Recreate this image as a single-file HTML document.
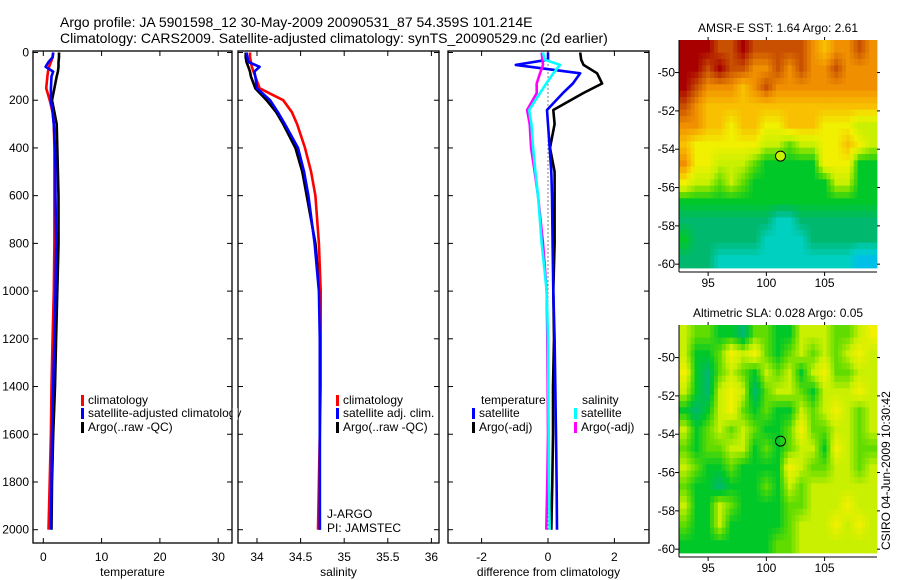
<!DOCTYPE html>
<html><head><meta charset="utf-8"><style>
body{margin:0;background:#fff;}
svg{display:block;font-family:"Liberation Sans",sans-serif;}
</style></head><body>
<svg id="fig" width="900" height="580" viewBox="0 0 900 580" xmlns="http://www.w3.org/2000/svg">
<rect width="900" height="580" fill="#fff"/>
<text x="60" y="27" font-size="14">Argo profile: JA 5901598_12 30-May-2009 20090531_87 54.359S 101.214E</text>
<text x="60" y="43" font-size="14">Climatology: CARS2009. Satellite-adjusted climatology: synTS_20090529.nc (2d earlier)</text>
<defs>
<clipPath id="c1"><rect x="33" y="51" width="199" height="492"/></clipPath>
<clipPath id="c2"><rect x="238" y="51" width="201" height="492"/></clipPath>
<clipPath id="c3"><rect x="448" y="51" width="201" height="492"/></clipPath>
</defs>
<g id="g"></g>
<text transform="translate(890,550) rotate(-90)" font-size="12">CSIRO 04-Jun-2009 10:30:42</text>
</svg>
<script>
// depth levels (m)
const depths = [0,20,40,60,80,100,150,200,250,300,400,500,600,800,1000,1200,1400,1600,1800,2000];
const tempClim = [1.7,1.6,1.3,1.0,0.8,0.7,0.5,1.1,1.6,1.8,1.9,1.9,1.9,1.9,1.8,1.6,1.4,1.3,1.1,0.9];
const tempSat = [1.7,1.6,0.9,0.4,1.7,1.4,1.3,1.3,1.6,1.8,2.0,2.1,2.1,2.2,2.1,1.9,1.7,1.5,1.4,1.3];
const tempArgo = [2.7,2.7,2.6,2.6,2.5,2.3,1.9,1.5,1.9,2.3,2.4,2.5,2.6,2.6,2.4,2.2,2.0,1.7,1.5,1.4];
const salClim = [33.92,33.92,33.93,33.94,33.96,33.98,34.03,34.3,34.4,34.46,34.55,34.62,34.67,34.71,34.73,34.73,34.73,34.72,34.71,34.70];
const salSat = [33.88,33.89,33.9,34.03,33.97,33.98,34.0,34.15,34.24,34.32,34.47,34.54,34.59,34.66,34.71,34.72,34.72,34.72,34.72,34.72];
const salArgo = [33.87,33.87,33.88,33.9,33.92,33.93,33.98,34.11,34.22,34.3,34.44,34.52,34.57,34.67,34.72,34.72,34.72,34.72,34.72,34.72];
const diffDepths = [0,30,52,87,130,170,241,300,400,500,600,800,1000,1200,1400,1600,1800,2000];
const dTSat = [0,0,-0.97,0.97,0.75,0.45,-0.03,0.0,0.05,0.1,0.12,0.14,0.16,0.2,0.22,0.24,0.26,0.27];
const dTArgo = [0.97,1.0,1.07,1.48,1.63,1.06,0.16,0.2,0.06,0.2,0.2,0.2,0.16,0.18,0.15,0.15,0.13,0.1];
const dSSat = [-0.15,-0.1,0.36,0.16,-0.05,-0.24,-0.57,-0.5,-0.45,-0.38,-0.3,-0.19,-0.04,0,0.01,0.02,0.03,0.05];
const dSArgo = [-0.19,-0.17,-0.15,-0.24,-0.34,-0.34,-0.63,-0.55,-0.51,-0.4,-0.3,-0.15,-0.04,-0.02,-0.01,0,-0.02,-0.05];
const depthTicks = [0,200,400,600,800,1000,1200,1400,1600,1800,2000];
const tempTicks = [0,10,20,30];
const salTicks = [34,34.5,35,35.5,36];
const diffTicks = [-2,0,2];
const lonTicks = [95,100,105];
const latTicks = [-50,-52,-54,-56,-58,-60];
// map grids: digits 0..9, a = 10 (colour level)
const sstGrid = [
"aaa99a99999878898",
"aa9a9988989889888",
"a9888789888888888",
"98777777777777777",
"88776776677766655",
"76666665545566765",
"86655543333366633",
"65545433333335533",
"33333333333333333",
"22222222112222222",
"32222221111222222",
"22211111111111100"];
const slaGrid = [
"54433244335554456",
"53346564345454565",
"63245435453564455",
"53256524554355565",
"32356434335456545",
"53454543346445545",
"43445534345536544",
"54334333365445545",
"43323334354555555",
"53354333344555655",
"43353333345556565",
"33333333445555555"];
const floatLon = 101.214, floatLat = -54.359;

const NS='http://www.w3.org/2000/svg';
const G=document.getElementById('g');
function mk(tag,attrs,parent){const e=document.createElementNS(NS,tag);for(const k in attrs)e.setAttribute(k,attrs[k]);(parent||G).appendChild(e);return e;}
const yD = d => 52.5 + d*0.2386;
const xT = v => 43.3 + v*5.83;
const xS = v => 257 + (v-34)*87.2;
const xDf = v => 548 + v*33.2;

function panel(name,x0,x1,xf,ticks,title,showDepth){
  const r=mk('rect',{x:x0,y:51,width:x1-x0,height:492,fill:'none',stroke:'#000','stroke-width':1.3});
  
  
  ticks.forEach(t=>{
    const x=xf(t);
    mk('line',{x1:x,x2:x,y1:543,y2:538,stroke:'#000'});
    mk('line',{x1:x,x2:x,y1:51,y2:56,stroke:'#000'});
    const tx=mk('text',{x:x,y:561,'font-size':12,'text-anchor':'middle'});
    tx.textContent=String(t);
    
    
  });
  depthTicks.forEach(d=>{
    const y=yD(d);
    mk('line',{x1:x0,x2:x0+5,y1:y,y2:y,stroke:'#000'});
    mk('line',{x1:x1,x2:x1-5,y1:y,y2:y,stroke:'#000'});
    if(showDepth){
      const tx=mk('text',{x:x0-4,y:y+4,'font-size':12,'text-anchor':'end'});
      tx.textContent=String(d);
      
      
    }
  });
  const tt=mk('text',{x:(x0+x1)/2,y:576,'font-size':12,'text-anchor':'middle'});
  tt.textContent=title;
  
  
}
function line(name,xs,ds,xf,color,clip){
  const pts=xs.map((v,i)=>xf(v).toFixed(1)+','+yD(ds[i]).toFixed(1)).join(' ');
  const p=mk('polyline',{points:pts,fill:'none',stroke:color,'stroke-width':2.6,'clip-path':'url(#'+clip+')','stroke-linejoin':'round'});
  
  
}
function legend(name,x,y,color,label){
  if(color){mk('rect',{x:x,y:y-9,width:3,height:11,fill:color});}
  const t=mk('text',{x:x+7,y:y,'font-size':12});
  t.textContent=label;
  
  
}

panel('temperature-panel',33,232,xT,tempTicks,'temperature',true);
panel('salinity-panel',238,439,xS,salTicks,'salinity',false);
panel('difference-panel',448,649,xDf,diffTicks,'difference from climatology',false);

line('temp-argo-line',tempArgo,depths,xT,'#000','c1');
line('temp-clim-line',tempClim,depths,xT,'#f00','c1');
line('temp-sat-line',tempSat,depths,xT,'#00f','c1');
line('sal-argo-line',salArgo,depths,xS,'#000','c2');
line('sal-clim-line',salClim,depths,xS,'#f00','c2');
line('sal-sat-line',salSat,depths,xS,'#00f','c2');
mk('line',{x1:xDf(0),x2:xDf(0),y1:yD(0),y2:yD(2000),stroke:'#000','stroke-dasharray':'1,3'});
line('dtemp-argo-line',dTArgo,diffDepths,xDf,'#000','c3');
line('dtemp-sat-line',dTSat,diffDepths,xDf,'#00f','c3');
line('dsal-argo-line',dSArgo,diffDepths,xDf,'#f0f','c3');
line('dsal-sat-line',dSSat,diffDepths,xDf,'#0ff','c3');

legend('legend-temp-clim',81,404,'#f00','climatology');
legend('legend-temp-sat',81,417,'#00f','satellite-adjusted climatology');
legend('legend-temp-argo',81,431,'#000','Argo(..raw -QC)');
mk('rect',{x:232.7,y:408,width:5,height:12,fill:'#fff'});
legend('legend-sal-clim',336,404,'#f00','climatology');
legend('legend-sal-sat',336,417,'#00f','satellite adj. clim.');
legend('legend-sal-argo',336,431,'#000','Argo(..raw -QC)');
legend('label-j-argo',320,518,null,'J-ARGO');
legend('label-pi-jamstec',320,532,null,'PI: JAMSTEC');
legend('legend-diff-temp-title',474,404,null,'temperature');
legend('legend-diff-temp-sat',472,417,'#00f','satellite');
legend('legend-diff-temp-argo',472,431,'#000','Argo(-adj)');
legend('legend-diff-sal-title',575,404,null,'salinity');
legend('legend-diff-sal-sat',574,417,'#0ff','satellite');
legend('legend-diff-sal-argo',574,431,'#f0f','Argo(-adj)');

// continuous colormap by level 0..10
const pal=[[0,192,232],[0,208,192],[0,184,110],[0,200,40],[96,220,0],[200,240,0],[240,240,0],[248,192,0],[240,144,0],[200,80,0],[168,0,0]];
function col(v){v=Math.max(0,Math.min(10,v));const i=Math.min(9,Math.floor(v)),f=v-i;
  const c=pal[i].map((a,k)=>Math.round(a+(pal[i+1][k]-a)*f));return 'rgb('+c.join(',')+')';}
function lvl(ch){return ch==='a'?10:+ch;}
function map(name,grid,top,bottom,title){
  const x0=679,x1=877,lon0=92.5,lon1=109.5,lat0=-48.3,lat1=-60.2;
  const xL=v=>x0+(v-lon0)/(lon1-lon0)*(x1-x0);
  const yL=v=>top+(v-lat0)/(lat1-lat0)*(bottom-top);
  const rows=grid.length,cols=grid[0].length,S=3;
  const g=(r,c)=>lvl(grid[Math.max(0,Math.min(rows-1,r))][Math.max(0,Math.min(cols-1,c))]);
  const cw=(x1-x0)/(cols*S),ch=(bottom-top)/(rows*S);
  for(let r=0;r<rows*S;r++)for(let c=0;c<cols*S;c++){
    const fr=(r+0.5)/S-0.5,fc=(c+0.5)/S-0.5,r0=Math.floor(fr),c0=Math.floor(fc),a=fr-r0,b=fc-c0;
    const v=(1-a)*((1-b)*g(r0,c0)+b*g(r0,c0+1))+a*((1-b)*g(r0+1,c0)+b*g(r0+1,c0+1));
    const cell=mk('rect',{x:(x0+c*cw).toFixed(2),y:(top+r*ch).toFixed(2),width:(cw+0.4).toFixed(2),height:(ch+0.4).toFixed(2),fill:col(v)});
    
    
  }
  mk('line',{x1:x0,x2:x0,y1:top,y2:bottom+4,stroke:'#000'});
  mk('line',{x1:x0,x2:x1,y1:bottom+4,y2:bottom+4,stroke:'#000'});
  latTicks.forEach(t=>{const y=yL(t);
    mk('line',{x1:x0-4,x2:x0,y1:y,y2:y,stroke:'#000'});
    mk('line',{x1:x1,x2:x1+3,y1:y,y2:y,stroke:'#000'});
    const tx=mk('text',{x:x0-4,y:y+4,'font-size':12,'text-anchor':'end'});tx.textContent=String(t);
    
    });
  lonTicks.forEach(t=>{const x=xL(t);
    mk('line',{x1:x,x2:x,y1:bottom+4,y2:bottom+8,stroke:'#000'});
    mk('line',{x1:x,x2:x,y1:top,y2:top-3,stroke:'#000'});
    const tx=mk('text',{x:x,y:bottom+19,'font-size':12,'text-anchor':'middle'});tx.textContent=String(t);
    
    });
  const tt=mk('text',{x:(x0+x1)/2,y:top-8,'font-size':12,'text-anchor':'middle'});tt.textContent=title;
  
  
  const m=mk('circle',{cx:xL(floatLon),cy:yL(floatLat),r:5,fill:name==='sst-map'?'#c8f000':'none',stroke:'#000'});
  
  
}
map('sst-map',sstGrid,40,268,'AMSR-E SST: 1.64 Argo: 2.61');
map('sla-map',slaGrid,325,553,'Altimetric SLA: 0.028 Argo: 0.05');
</script>
</body></html>
